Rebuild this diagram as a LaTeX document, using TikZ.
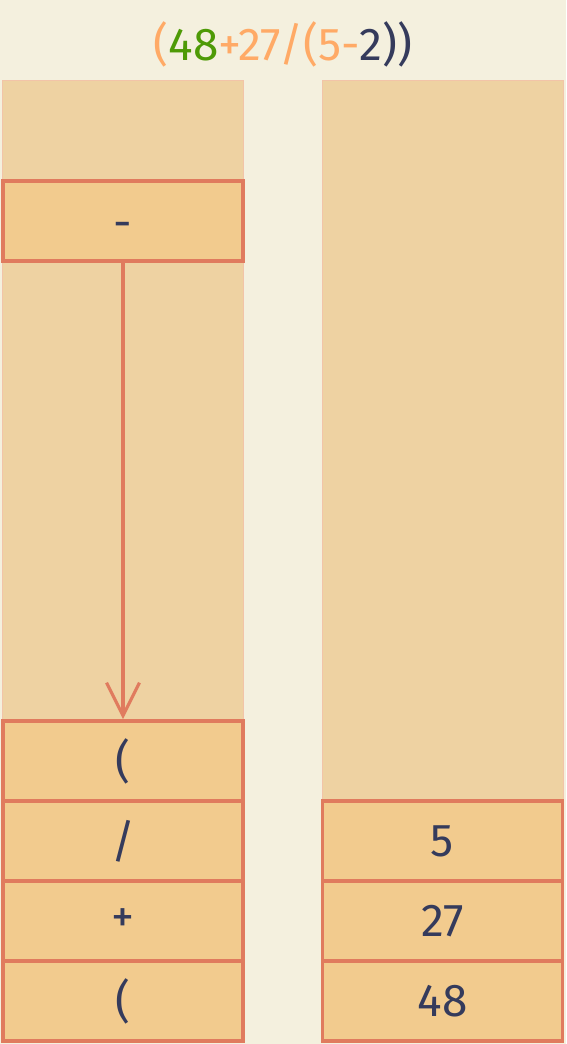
\documentclass[tikz,border=0pt]{standalone}
\usepackage{fontspec}
\setmainfont{Fira Sans}
\usetikzlibrary{arrows.meta}
\definecolor{bg}{HTML}{F4F0DE}
\definecolor{colfill}{HTML}{EED2A2}
\definecolor{colline}{HTML}{F2C4A8}
\definecolor{boxfill}{HTML}{F2CB8E}
\definecolor{boxline}{HTML}{E07B5E}
\definecolor{ink}{HTML}{353B5C}
\definecolor{orng}{HTML}{FFAA66}
\definecolor{grn}{HTML}{4E9A06}
\tikzset{
  column/.style={fill=colfill, draw=colline, line width=1pt},
  cell/.style={fill=boxfill, draw=boxline, line width=3.6pt, minimum width=240pt, minimum height=80pt, inner sep=0pt, text=ink, font=\fontsize{46}{54}\selectfont},
  link/.style={draw=boxline, line width=3.2pt, -{Straight Barb[length=33pt, width=33pt, line width=3.2pt]}}
}
\begin{document}
\begin{tikzpicture}[x=1pt, y=-1pt]
\fill[bg] (0,0) rectangle (566,1044);
\useasboundingbox (0,0) rectangle (566,1044);
\node[text=orng, font=\fontsize{46}{54}\selectfont] (title) at (283,44) {(\textcolor{grn}{48}+27/(5-\textcolor{ink}{2))}};
\draw[column] (2.5,80.5) rectangle (243,1042);
\draw[column] (322.5,80.5) rectangle (563,1042);
% left stack
\node[cell] (op) at (123,221) {\raisebox{-17pt}[0pt][0pt]{-}};
\node[cell] (l1) at (123,761) {(};
\node[cell] (l2) at (123,841) {/};
\node[cell] (l3) at (123,921) {+};
\node[cell] (l4) at (123,1001) {(};
% right stack
\node[cell] (r1) at (442.5,841) {5};
\node[cell] (r2) at (442.5,921) {27};
\node[cell] (r3) at (442.5,1001) {48};
\draw[link] (op.south) -- (l1.north);
\end{tikzpicture}
\end{document}
